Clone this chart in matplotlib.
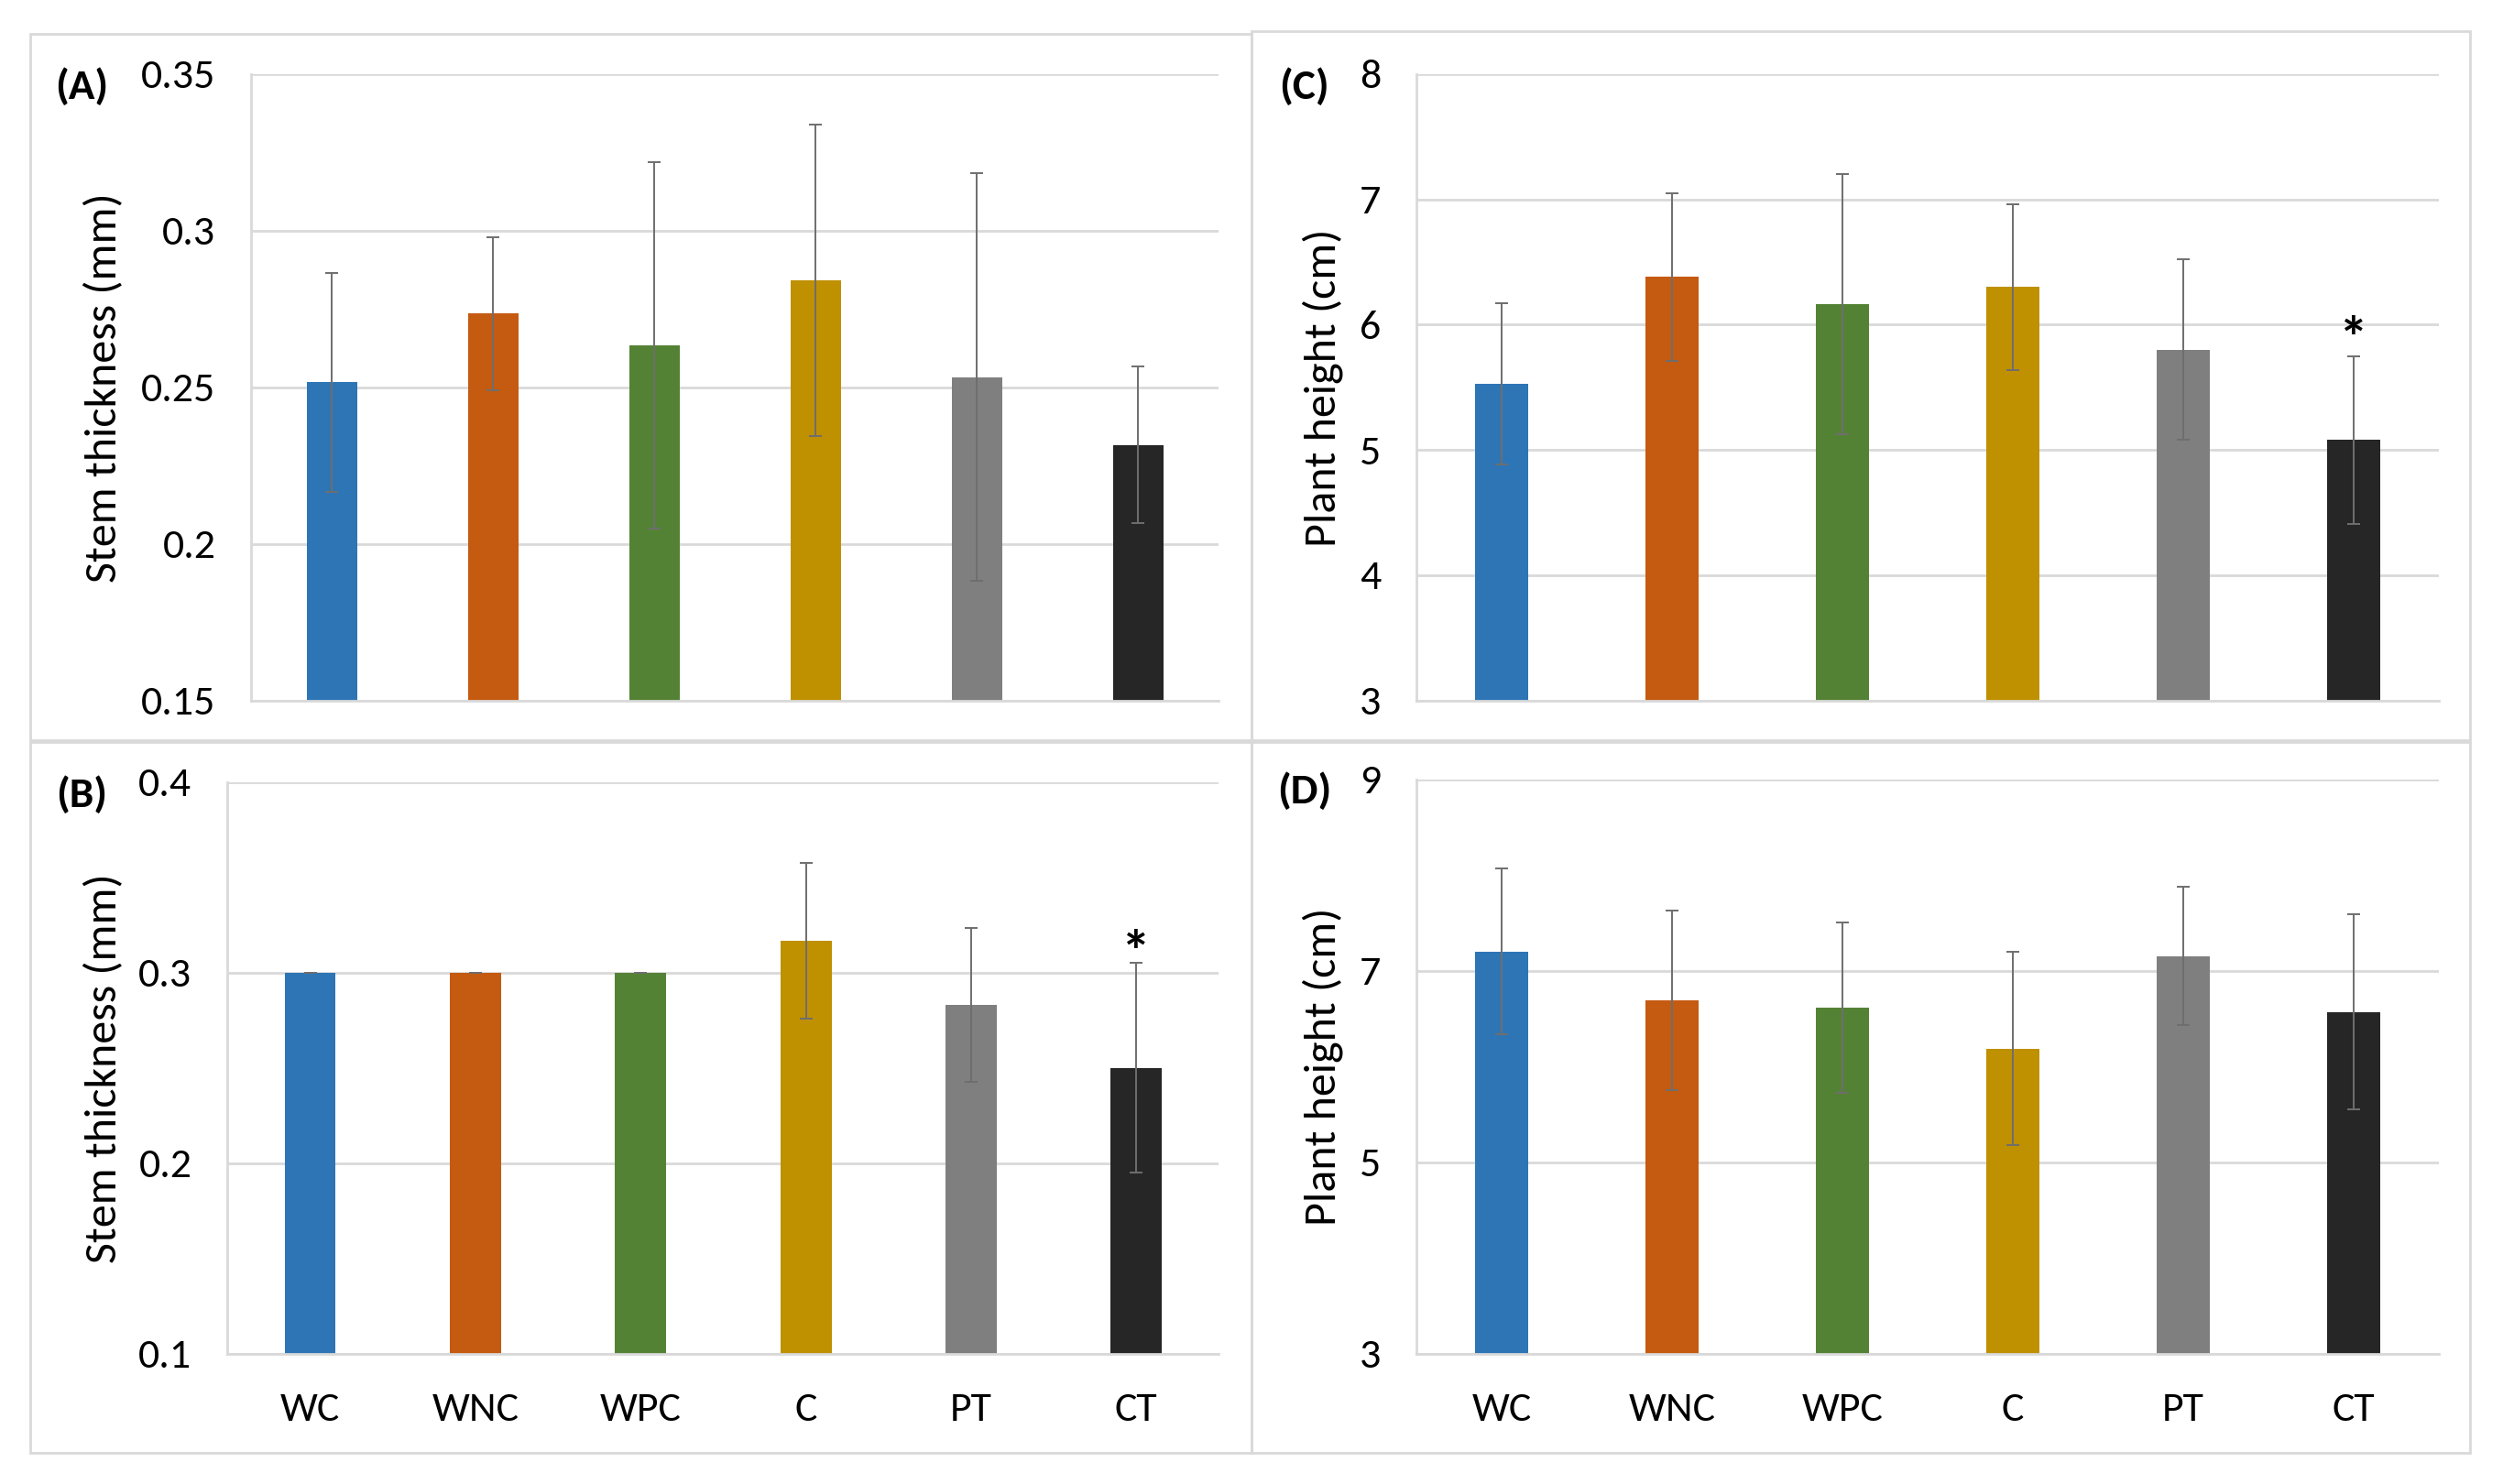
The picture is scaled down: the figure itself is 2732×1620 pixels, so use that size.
import matplotlib
matplotlib.use("Agg")
import matplotlib.pyplot as plt
from matplotlib.patches import Rectangle

# Treatment groups, shared by all four panels
groups = ["WC", "WNC", "WPC", "C", "PT", "CT"]
colors = ["#2e75b6", "#c55a11", "#548235", "#bf9000", "#7f7f7f", "#262626"]

# (A) stem thickness, first measurement
stem_a = [0.2516, 0.2735, 0.2634, 0.2841, 0.2533, 0.2316]
stem_a_err = [0.035, 0.0245, 0.0586, 0.0497, 0.065, 0.025]

# (B) stem thickness, second measurement
stem_b = [0.300, 0.300, 0.300, 0.3167, 0.283, 0.250]
stem_b_err = [0.0, 0.0, 0.0, 0.041, 0.0405, 0.055]

# (C) plant height, first measurement
height_c = [5.53, 6.38, 6.165, 6.30, 5.80, 5.08]
height_c_err = [0.645, 0.666, 1.04, 0.66, 0.72, 0.67]

# (D) plant height, second measurement
height_d = [7.20, 6.69, 6.615, 6.185, 7.153, 6.57]
height_d_err = [0.865, 0.94, 0.89, 1.01, 0.72, 1.015]

GRID = "#d9d9d9"
TICK_FONT = ["Carlito", "DejaVu Sans"]
LABEL_FONT = ["Carlito", "Open Sans", "DejaVu Sans"]

fig = plt.figure(figsize=(27.32, 16.20), dpi=100)
fig.patch.set_facecolor("white")

# panel frames
for x0, y0, w, h in [(0.012, 0.501, 0.488, 0.476), (0.500, 0.501, 0.487, 0.478),
                     (0.012, 0.021, 0.488, 0.479), (0.500, 0.021, 0.487, 0.479)]:
    fig.add_artist(Rectangle((x0, y0), w, h, transform=fig.transFigure,
                             fill=False, edgecolor=GRID, linewidth=2))

panels = [
    # tag, rect, values, errs, ylim, yticks, ticklabels, ylabel, star, show x labels
    ("(A)", [0.1004, 0.528, 0.3866, 0.422], stem_a, stem_a_err, (0.15, 0.35),
     [0.15, 0.2, 0.25, 0.3, 0.35], ["0.15", "0.2", "0.25", "0.3", "0.35"],
     "Stem thickness (mm)", None, False),
    ("(B)", [0.0909, 0.0877, 0.3961, 0.3853], stem_b, stem_b_err, (0.1, 0.4),
     [0.1, 0.2, 0.3, 0.4], ["0.1", "0.2", "0.3", "0.4"],
     "Stem thickness (mm)", 0.3095, True),
    ("(C)", [0.566, 0.528, 0.4084, 0.422], height_c, height_c_err, (3, 8),
     [3, 4, 5, 6, 7, 8], ["3", "4", "5", "6", "7", "8"],
     "Plant height (cm)", 5.87, False),
    ("(D)", [0.566, 0.0877, 0.4084, 0.3873], height_d, height_d_err, (3, 9),
     [3, 5, 7, 9], ["3", "5", "7", "9"],
     "Plant height (cm)", None, True),
]

for tag, rect, vals, errs, ylim, yticks, ylabels, ylabel, star, show_x in panels:
    ax = fig.add_axes(rect)
    x = list(range(len(groups)))
    ax.bar(x, vals, width=0.31, color=colors, zorder=2)
    ax.errorbar(x, vals, yerr=errs, fmt="none", ecolor="#6e6e6e",
                elinewidth=1.4, capsize=5, capthick=1.4, zorder=3)
    ax.set_xlim(-0.5, len(groups) - 0.5)
    ax.set_ylim(*ylim)
    ax.set_yticks(yticks)
    ax.set_yticklabels(ylabels, fontfamily=TICK_FONT, fontsize=33,
                       fontstretch="condensed")
    ax.set_xticks(x)
    if show_x:
        ax.set_xticklabels(groups, fontfamily=TICK_FONT, fontsize=33,
                           fontstretch="condensed")
    else:
        ax.set_xticklabels([])
    ax.tick_params(axis="y", length=0, pad=28)
    ax.tick_params(axis="x", length=0, pad=30)
    ax.grid(axis="y", color=GRID, linewidth=2, zorder=0)
    ax.set_axisbelow(True)
    for side in ["top", "right"]:
        ax.spines[side].set_visible(False)
    for side in ["left", "bottom"]:
        ax.spines[side].set_color(GRID)
        ax.spines[side].set_linewidth(2)

    ax.set_ylabel(ylabel, fontfamily=LABEL_FONT, fontsize=36)
    lx = 0.0494 if rect[0] < 0.5 else 0.5365
    ax.yaxis.set_label_coords(lx, rect[1] + rect[3] / 2, transform=fig.transFigure)

    tx = 0.0326 if rect[0] < 0.5 else 0.521
    ty = rect[1] + rect[3] - 0.008
    fig.text(tx, ty, tag, fontfamily=TICK_FONT, fontsize=34, fontweight="bold",
             fontstretch="condensed", ha="center", va="center")

    if star is not None:
        ax.text(x[-1], star, "*", ha="center", va="center", fontsize=46,
                fontweight="bold", fontfamily=TICK_FONT)

fig.savefig("out.png", dpi=100, facecolor="white")
